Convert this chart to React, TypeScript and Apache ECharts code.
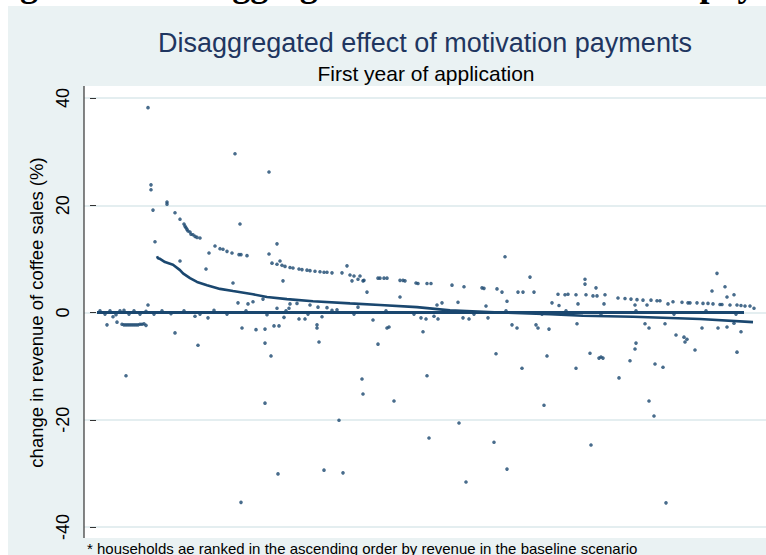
import React, { useEffect, useRef } from "react";
import * as echarts from "echarts";

// ---- data (x = household rank, y = change in revenue of coffee sales, %) ----
const yTickValues = [-40, -20, 0, 20, 40];

const zeroLine: [number, number][] = [
  [1, 0], [120, 0], [260, 0], [400, 0], [520, 0], [648, 0],
];
const zeroDots: [number, number][] = [
  [4, 0.3], [9, -0.3], [14, 0.3], [20, -0.4], [24, 0.3], [28, 0.4], [33, -0.3], [38, 0.3],
  [44, -0.3], [50, 0.2], [58, -0.3], [66, 0.3], [75, -0.2], [88, 0.3], [104, -0.3], [118, 0.4],
  [131, -0.3], [150, 0.3], [171, -0.4], [190, 0.3], [212, -0.3], [236, 0.4], [258, -0.3],
  [290, 0.3], [318, -0.3], [350, 0.3], [378, -0.3], [410, 0.3], [446, -0.3], [470, 0.3],
  [505, -0.3], [540, 0.3], [578, -0.3], [610, 0.3], [640, -0.3],
];
const minusTwoGroup: [number, number][] = [
  [26, -2.2], [28, -2.3], [30, -2.3], [32, -2.3], [34, -2.3], [36, -2.3], [38, -2.3],
  [40, -2.3], [42, -2.3], [44, -2.2], [46, -2.2], [48, -2.1], [50, -2.4],
];
const lowerCurve: [number, number][] = [
  [61, 10.5], [62, 10.1], [64, 10.0], [69, 9.4], [77, 8.9], [84, 7.9], [87, 7.3], [94, 6.4],
  [101, 5.7], [111, 5.1], [124, 4.4], [137, 4.0], [157, 3.4], [171, 2.9], [191, 2.5],
  [217, 2.1], [254, 1.7], [284, 1.4], [321, 1.0], [354, 0.4], [404, 0.0], [454, -0.3],
  [487, -0.6], [537, -0.8], [604, -1.2], [657, -1.8],
];
const upperCurve: [number, number][] = [
  [71, 20.6], [71, 20.2], [79, 18.6], [84, 17.4], [88, 16.5], [89, 16.1], [90, 15.8], [91, 15.5],
  [92, 15.2], [94, 15.0], [95, 14.6], [97, 14.5], [99, 14.2], [101, 14.0], [104, 13.9],
  [119, 12.4], [124, 11.9], [127, 11.8], [131, 11.4], [136, 11.1], [143, 10.8], [145, 10.8],
  [151, 10.6], [176, 9.2], [181, 9.0], [186, 8.8], [189, 8.6], [194, 8.4], [197, 8.3],
  [203, 8.1], [206, 8.0], [211, 7.9], [214, 7.8], [219, 7.7], [224, 7.6], [228, 7.5],
  [231, 7.5], [236, 7.4], [254, 7.0], [258, 6.8], [262, 6.2], [268, 6.0], [284, 6.4],
  [288, 6.4], [291, 6.4], [304, 6.0], [307, 6.0], [309, 5.9], [320, 5.5], [322, 5.4],
  [331, 5.4], [335, 5.4], [356, 5.1], [368, 4.8], [386, 4.6], [388, 4.5], [401, 4.4],
  [406, 3.8], [422, 3.8], [427, 3.8], [438, 3.8], [462, 3.4], [469, 3.3], [472, 3.4],
  [480, 3.3], [490, 3.3], [497, 3.1], [501, 3.1], [509, 3.3], [522, 2.7], [529, 2.6],
  [535, 2.5], [541, 2.4], [547, 2.3], [555, 2.3], [561, 2.2], [564, 2.2], [572, 1.6],
  [577, 2.0], [586, 1.9], [592, 1.8], [594, 1.8], [601, 1.8], [607, 1.7], [612, 1.7],
  [617, 1.6], [624, 1.5], [626, 1.5], [634, 1.4], [641, 1.4], [645, 1.3], [649, 1.2],
  [654, 1.2], [658, 0.8],
];
const positiveOutliers: [number, number][] = [
  [52, 38.2], [55, 23.8], [55, 22.9], [57, 19.1], [59, 13.2], [52, 1.4], [139, 29.6],
  [144, 16.5], [173, 26.2], [181, 12.8], [173, 10.9], [184, 9.6], [187, 5.9], [110, 8.1],
  [113, 11.1], [84, 9.6], [137, 5.5], [142, 1.8], [152, 1.6], [157, 2.0], [167, 2.5],
  [181, 0.8], [193, 0.8], [194, 1.6], [201, 1.7], [214, 1.4], [222, 1.0], [231, 0.9],
  [241, 0.5], [262, 1.0], [251, 8.7], [246, 7.4], [256, 5.9], [264, 6.8], [267, 5.9],
  [271, 3.8], [282, 6.4], [304, 2.9], [341, 1.4], [346, 1.8], [362, 1.9], [390, 1.2],
  [411, 2.1], [409, 10.4], [434, 6.6], [456, 1.8], [463, 1.3], [482, 1.6], [489, 6.2],
  [489, 5.3], [500, 4.6], [508, 1.6], [539, 1.4], [551, 1.4], [621, 7.3], [629, 4.8],
  [616, 4.0], [638, 3.3], [631, 2.9],
];
const negativeOutliers: [number, number][] = [
  [11, -2.3], [17, -0.8], [21, -1.8], [30, -11.8], [79, -3.8], [102, -6.1], [112, -1.0],
  [99, -0.7], [146, -2.9], [160, -3.2], [169, -3.1], [178, -2.5], [183, -2.5], [169, -5.7],
  [175, -8.1], [169, -16.9], [145, -35.4], [182, -30.1], [228, -29.4], [247, -29.9],
  [243, -20.1], [266, -12.4], [267, -15.2], [298, -16.5], [282, -5.9], [277, -1.4],
  [291, -2.9], [293, -2.7], [327, -3.6], [223, -5.5], [221, -2.3], [221, -2.9], [226, -0.8],
  [203, -1.2], [209, -1.2], [188, -0.9], [331, -11.8], [333, -23.4], [363, -20.6],
  [370, -31.6], [398, -24.2], [411, -29.2], [400, -7.7], [426, -10.4], [448, -17.3],
  [451, -8.1], [416, -2.3], [421, -2.9], [440, -2.3], [442, -2.9], [453, -3.1], [480, -10.4],
  [481, -2.1], [494, -7.6], [495, -24.7], [503, -8.5], [505, -8.3], [507, -8.5], [523, -12.2],
  [534, -9.0], [539, -6.8], [540, -5.7], [549, -2.1], [553, -2.9], [553, -16.5], [558, -19.3],
  [559, -9.6], [567, -10.2], [570, -35.5], [569, -2.1], [580, -4.2], [588, -4.6], [589, -5.5],
  [591, -5.0], [599, -7.0], [606, -2.9], [622, -2.9], [631, -2.7], [638, -2.0], [641, -7.4],
  [645, -3.6], [325, -1.0], [330, -1.2], [338, -0.7], [342, -1.2], [367, -1.0], [373, -1.2],
  [392, -1.0],
];

const headerText = "Figure 4.3: Disaggregated effect of motivation payments";
const titleText = "Disaggregated effect of motivation payments";
const subtitleText = "First year of application";
const yAxisTitle = "change in revenue of coffee sales (%)";
const footnoteText =
  "* households ae ranked in the ascending order by revenue in the baseline scenario";

const NAVY = "#1a476f";
const BG = "#eaf2f3";
const FONT = "Liberation Sans, Arial, sans-serif";

export default function App() {
  const ref = useRef<HTMLDivElement>(null);

  useEffect(() => {
    if (!ref.current) return;
    const chart = echarts.init(ref.current, undefined, { renderer: "svg" });

    const scatter = (name: string, data: [number, number][]) => ({
      name,
      type: "scatter",
      data,
      symbol: "circle",
      symbolSize: 3.6,
      itemStyle: { color: NAVY },
      silent: true,
      z: 3,
    });
    const line = (name: string, data: [number, number][], width: number) => ({
      name,
      type: "line",
      data,
      showSymbol: false,
      smooth: false,
      lineStyle: { color: NAVY, width },
      silent: true,
      z: 3,
    });

    chart.setOption({
      animation: false,
      grid: { left: 84, right: 0, top: 98, bottom: 28 },
      xAxis: {
        type: "value",
        min: -12,
        max: 670,
        show: false,
      },
      yAxis: {
        type: "value",
        min: yTickValues[0],
        max: yTickValues[yTickValues.length - 1],
        interval: 20,
        axisLine: { show: false },
        axisTick: { show: true, length: 6, lineStyle: { color: "#333", width: 1 } },
        axisLabel: {
          rotate: 90,
          margin: 12,
          fontSize: 18,
          color: "#000",
          fontFamily: FONT,
        },
        splitLine: { show: true, lineStyle: { color: "#e4eef0", width: 2 } },
        name: yAxisTitle,
        nameLocation: "middle",
        nameRotate: 90,
        nameGap: 26,
        nameTextStyle: { fontSize: 18.5, color: "#000", fontFamily: FONT },
      },
      graphic: [
        {
          type: "text",
          z: -20,
          x: -12,
          y: 2,
          style: {
            text: headerText,
            font: "bold 36px 'Liberation Serif', serif",
            fill: "#000",
            textVerticalAlign: "bottom",
          },
        },
        {
          type: "rect",
          z: -10,
          shape: { x: 8, y: 6, width: 758, height: 549 },
          style: { fill: BG },
        },
        {
          type: "rect",
          z: -5,
          shape: { x: 84, y: 86, width: 682, height: 452 },
          style: { fill: "#fff" },
        },
        {
          type: "line",
          z: 5,
          shape: { x1: 84, y1: 86, x2: 84, y2: 538 },
          style: { stroke: "#333", lineWidth: 1.2 },
        },
        {
          type: "text",
          z: 5,
          x: 425,
          y: 43,
          style: {
            text: titleText,
            font: `27px ${FONT}`,
            fill: "#1f3660",
            textAlign: "center",
            textVerticalAlign: "middle",
          },
        },
        {
          type: "text",
          z: 5,
          x: 426,
          y: 73,
          style: {
            text: subtitleText,
            font: `21px ${FONT}`,
            fill: "#000",
            textAlign: "center",
            textVerticalAlign: "middle",
          },
        },
        {
          type: "text",
          z: 5,
          x: 87,
          y: 548,
          style: {
            text: footnoteText,
            font: `15px ${FONT}`,
            fill: "#000",
            textAlign: "left",
            textVerticalAlign: "middle",
          },
        },
      ],
      series: [
        line("zero line", zeroLine, 3),
        line("lower curve", lowerCurve, 2.6),
        scatter("zero dots", zeroDots),
        scatter("-2 group", minusTwoGroup),
        scatter("upper curve", upperCurve),
        scatter("positive outliers", positiveOutliers),
        scatter("negative outliers", negativeOutliers),
      ],
    });

    return () => chart.dispose();
  }, []);

  return (
    <div
      ref={ref}
      style={{ position: "absolute", left: 0, top: 0, width: 766, height: 555 }}
    />
  );
}
